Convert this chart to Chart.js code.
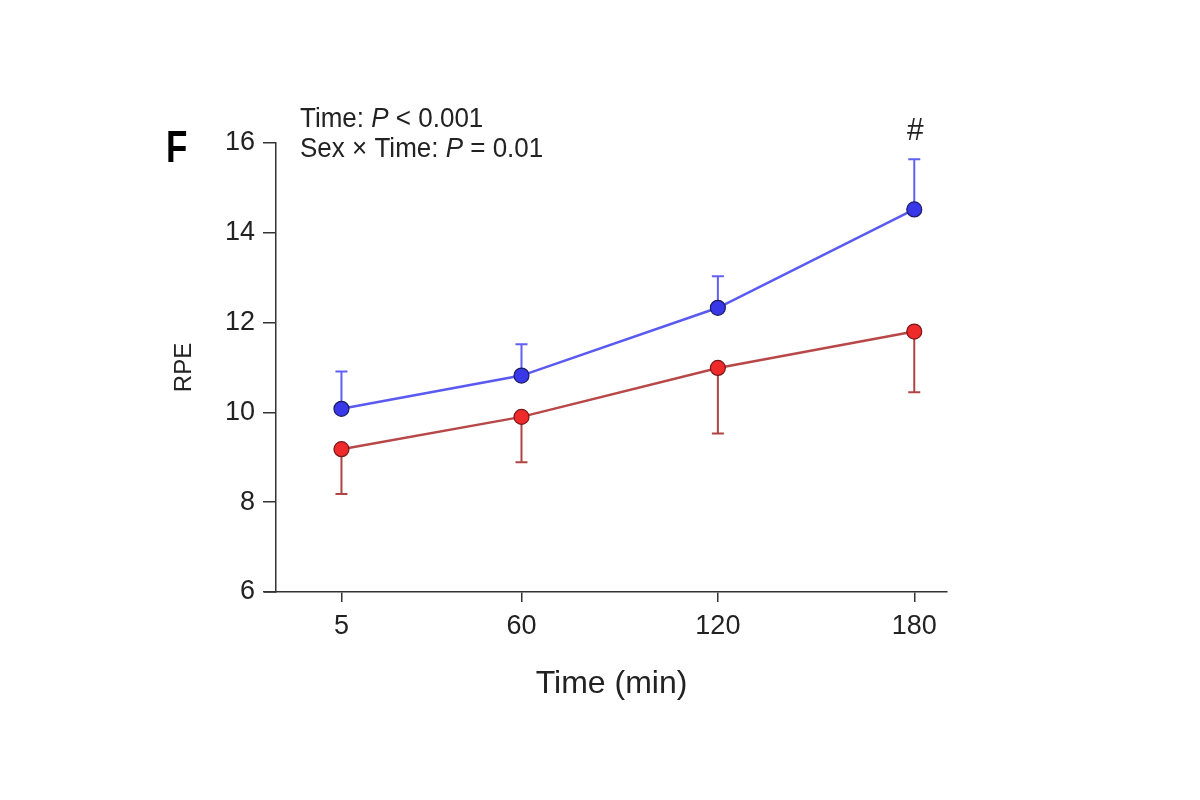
<!DOCTYPE html>
<html><head><meta charset="utf-8">
<script src="https://cdn.jsdelivr.net/npm/chart.js@4"></script>
<style>html,body{margin:0;padding:0;background:#fff}</style>
</head><body>
<canvas id="c" width="1200" height="800"></canvas>
<script>
// ---- data ----
const timePoints = [5, 60, 120, 180];
const xTickValues = [5, 60, 120, 180];
const yTickValues = [6, 8, 10, 12, 14, 16];
const blueMean = [10.08, 10.82, 12.33, 14.52];
const blueErr  = [0.83, 0.70, 0.70, 1.12];
const redMean  = [9.18, 9.90, 10.99, 11.80];
const redErr   = [1.00, 1.01, 1.46, 1.35];
const xTitle = 'Time (min)';
const yTitle = 'RPE';
const panelLabel = 'F';
const statLine1 = ['Time: ', 'P', ' < 0.001'];
const statLine2 = ['Sex \u00d7 Time: ', 'P', ' = 0.01'];
const sigMark = '#';
const sigIndex = 3;

const FONT = '"Liberation Sans", Arial, Helvetica, sans-serif';
const AX = '#333333';
const TXT = '#222222';

const errorBars = {
  id: 'errorBars',
  beforeDatasetsDraw(chart) {
    const {ctx, scales: {x, y}} = chart;
    const specs = [
      {mean: blueMean, err: blueErr, dir: 1, color: '#6060f2'},
      {mean: redMean, err: redErr, dir: -1, color: '#b04444'}
    ];
    ctx.save();
    ctx.lineWidth = 2;
    specs.forEach(s => {
      ctx.strokeStyle = s.color;
      timePoints.forEach((t, i) => {
        const px = x.getPixelForValue(t);
        const py0 = y.getPixelForValue(s.mean[i]);
        const py1 = y.getPixelForValue(s.mean[i] + s.dir * s.err[i]);
        ctx.beginPath();
        ctx.moveTo(px, py0); ctx.lineTo(px, py1);
        ctx.moveTo(px - 6, py1); ctx.lineTo(px + 6, py1);
        ctx.stroke();
      });
    });
    ctx.restore();
  }
};

function drawStretched(ctx, parts, x, y, size, sy, weight) {
  ctx.save();
  ctx.translate(x, y);
  ctx.scale(1, sy);
  let cx = 0;
  parts.forEach((p, i) => {
    const italic = (parts.length === 3 && i === 1);
    ctx.font = (italic ? 'italic ' : '') + (weight || '') + ' ' + size + 'px ' + FONT;
    ctx.fillText(p, cx, 0);
    cx += ctx.measureText(p).width;
  });
  ctx.restore();
}

const annotations = {
  id: 'annotations',
  afterDraw(chart) {
    const {ctx, scales: {x, y}, chartArea} = chart;
    ctx.save();
    // small extension of the x axis line to the left of the y axis
    ctx.strokeStyle = AX; ctx.lineWidth = 1.5;
    ctx.beginPath();
    ctx.moveTo(chartArea.left - 12, y.getPixelForValue(6));
    ctx.lineTo(chartArea.left, y.getPixelForValue(6));
    ctx.stroke();
    ctx.fillStyle = TXT;
    ctx.textAlign = 'left';
    ctx.textBaseline = 'alphabetic';
    drawStretched(ctx, statLine1, 300, 126.5, 26, 1.06);
    drawStretched(ctx, statLine2, 300, 157, 26, 1.06);
    ctx.fillStyle = '#000';
    drawStretched(ctx, [panelLabel], 166, 162, 35, 1.28, 'bold');
    ctx.fillStyle = TXT;
    ctx.textAlign = 'center';
    ctx.save();
    ctx.translate(x.getPixelForValue(timePoints[sigIndex]) + 1, 140);
    ctx.scale(1, 1.05);
    ctx.font = '30px ' + FONT;
    ctx.fillText(sigMark, 0, 0);
    ctx.restore();
    ctx.restore();
  }
};

new Chart(document.getElementById('c'), {
  type: 'line',
  data: {
    datasets: [
      {
        label: 'Blue group',
        data: timePoints.map((t, i) => ({x: t, y: blueMean[i]})),
        borderColor: '#5a5af0',
        borderWidth: 2.5,
        pointBackgroundColor: '#3838e8',
        pointBorderColor: '#1c1c66',
        pointBorderWidth: 1.2,
        pointRadius: 7.5,
        tension: 0,
        clip: false
      },
      {
        label: 'Red group',
        data: timePoints.map((t, i) => ({x: t, y: redMean[i]})),
        borderColor: '#b84848',
        borderWidth: 2.5,
        pointBackgroundColor: '#ee2a2a',
        pointBorderColor: '#781818',
        pointBorderWidth: 1.2,
        pointRadius: 7.5,
        tension: 0,
        clip: false
      }
    ]
  },
  options: {
    responsive: false,
    animation: false,
    devicePixelRatio: 1,
    layout: {padding: {left: 170, top: 143, right: 253, bottom: 97}},
    plugins: {legend: {display: false}, tooltip: {enabled: false}},
    scales: {
      x: {
        type: 'linear',
        min: -15, max: 190,
        afterBuildTicks(s) { s.ticks = xTickValues.map(v => ({value: v})); },
        afterFit(s) { s.height = 111; },
        grid: {display: true, drawOnChartArea: false, drawTicks: true, tickLength: 10, color: AX, lineWidth: 1.5},
        border: {display: true, color: AX, width: 1.5},
        ticks: {font: {family: FONT, size: 27}, color: TXT, padding: 8, maxRotation: 0},
        title: {display: true, text: xTitle, font: {family: FONT, size: 32}, color: TXT, padding: 0}
      },
      y: {
        type: 'linear',
        min: 6, max: 16,
        afterBuildTicks(s) { s.ticks = yTickValues.map(v => ({value: v})); },
        afterFit(s) { s.width = 106; },
        grid: {display: true, drawOnChartArea: false, drawTicks: true, tickLength: 13, color: AX, lineWidth: 1.5},
        border: {display: true, color: AX, width: 1.5},
        ticks: {font: {family: FONT, size: 27}, color: TXT, padding: 8},
        title: {display: true, text: yTitle, font: {family: FONT, size: 24}, color: TXT, padding: 0}
      }
    }
  },
  plugins: [errorBars, annotations]
});
</script>
</body></html>
